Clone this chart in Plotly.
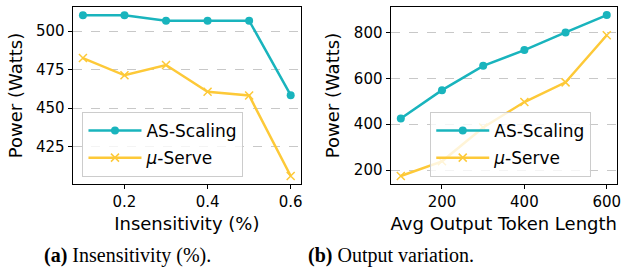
import plotly.graph_objects as go

# Data
insens_x = [0.1, 0.2, 0.3, 0.4, 0.5, 0.6]
insens_as = [510.2, 510.2, 506.7, 506.7, 506.7, 458.4]
insens_mu = [482.5, 471.3, 478.0, 460.6, 458.2, 406.0]

tok_x = [100, 200, 300, 400, 500, 600]
tok_as = [425, 549, 655, 724, 801, 877]
tok_mu = [174, 238, 386, 497, 583, 789]

left_yticks = [425, 450, 475, 500]
left_xticks = [0.2, 0.4, 0.6]
right_yticks = [200, 400, 600, 800]
right_xticks = [200, 400, 600]

TEAL = "#19b4bd"
YELLOW = "#fdc938"
W, H = 630, 270

fig = go.Figure()

def add_series(x, y, xa, ya, leg):
    fig.add_trace(go.Scatter(
        x=x, y=y[0], xaxis=xa, yaxis=ya, mode="lines+markers", name="AS-Scaling",
        line=dict(color=TEAL, width=2.5),
        marker=dict(symbol="circle", size=8, color=TEAL),
        legend=leg, legendgroup=leg + "a", showlegend=True))
    fig.add_trace(go.Scatter(
        x=x, y=y[1], xaxis=xa, yaxis=ya, mode="lines+markers", name="<i>μ</i>-Serve",
        line=dict(color=YELLOW, width=2.5),
        marker=dict(symbol="x-thin", size=8, color=YELLOW, line=dict(color=YELLOW, width=1.5)),
        legend=leg, legendgroup=leg + "b", showlegend=True))

add_series(insens_x, (insens_as, insens_mu), "x", "y", "legend")
add_series(tok_x, (tok_as, tok_mu), "x2", "y2", "legend2")

tickfont = dict(family="DejaVu Sans", size=15, color="black")
titlefont = dict(family="DejaVu Sans", size=18, color="black")
legfont = dict(family="DejaVu Sans", size=17, color="black")

def px_x(p):
    return p / W

def px_y(p):
    return 1 - p / H

common_x = dict(showgrid=False, zeroline=False, showline=True, mirror=True, linecolor="black",
                linewidth=1, ticks="outside", ticklen=4, tickcolor="black", tickfont=tickfont,
                title_font=titlefont)
common_y = dict(showgrid=True, gridcolor="#c8c8c8", griddash="dash", gridwidth=1, zeroline=False,
                showline=True, mirror=True, linecolor="black", linewidth=1, ticks="outside",
                ticklen=4, tickcolor="black", tickfont=tickfont, title_font=titlefont)

legend_common = dict(xanchor="left", yanchor="top", bgcolor="rgba(255,255,255,0.8)",
                     bordercolor="#cccccc", borderwidth=1, font=legfont, itemwidth=53,
                     tracegroupgap=2)

fig.update_layout(
    width=W, height=H, margin=dict(l=0, r=0, t=0, b=0),
    paper_bgcolor="white", plot_bgcolor="white",
    xaxis=dict(domain=[px_x(73), px_x(303)], range=[0.075, 0.625], tickvals=left_xticks,
               ticktext=["0.2", "0.4", "0.6"], anchor="y",
               title=dict(text="Insensitivity (%)", standoff=7), **common_x),
    yaxis=dict(domain=[px_y(184), px_y(7)], range=[400.8, 515.6], tickvals=left_yticks,
               anchor="x", title=dict(text="Power (Watts)", standoff=8), **common_y),
    xaxis2=dict(domain=[px_x(393), px_x(621)], range=[75, 625], tickvals=right_xticks,
                anchor="y2", title=dict(text="Avg Output Token Length", standoff=7), **common_x),
    yaxis2=dict(domain=[px_y(184), px_y(7)], range=[138.9, 912.2], tickvals=right_yticks,
                anchor="x2", title=dict(text="Power (Watts)", standoff=9), **common_y),
    legend=dict(x=px_x(83), y=px_y(112), **legend_common),
    legend2=dict(x=px_x(433), y=px_y(112), **legend_common),
    showlegend=True,
)

capfont = dict(family="Liberation Serif", size=20, color="black")
fig.add_annotation(x=px_x(128), y=px_y(255), xref="paper", yref="paper", showarrow=False,
                   text="<b>(a)</b> Insensitivity (%).", font=capfont, xanchor="center", yanchor="middle")
fig.add_annotation(x=px_x(393), y=px_y(255), xref="paper", yref="paper", showarrow=False,
                   text="<b>(b)</b> Output variation.", font=capfont, xanchor="center", yanchor="middle")

fig.write_html("out.html", config={"displayModeBar": False},
               post_script="document.body.style.margin='0px';")
